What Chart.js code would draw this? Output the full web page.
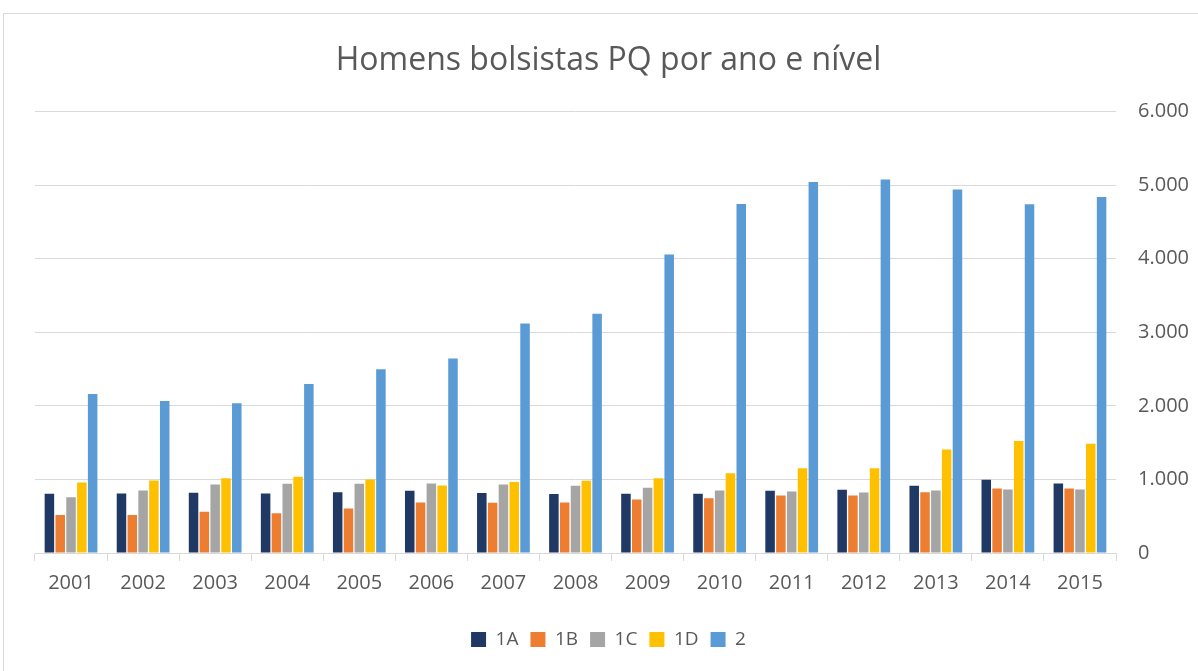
<!DOCTYPE html>
<html>
<head>
<meta charset="utf-8">
<script src="https://cdn.jsdelivr.net/npm/chart.js@4/dist/chart.umd.min.js"></script>
<style>
  html, body { margin: 0; padding: 0; background: #fff; }
  #wrap { position: relative; width: 1198px; height: 671px; overflow: hidden; }
  #frame { position: absolute; left: 3px; top: 13px; width: 1300px; height: 800px; border: 1px solid #d9d9d9; box-sizing: border-box; }
  #c { position: absolute; left: 0; top: 0; }
</style>
</head>
<body>
<div id="wrap">
  <div id="frame"></div>
  <canvas id="c" width="1198" height="671"></canvas>
</div>
<script>
const years = ['2001','2002','2003','2004','2005','2006','2007','2008','2009','2010','2011','2012','2013','2014','2015'];
const s1A = [805, 809, 818, 809, 827, 845, 814, 800, 805, 805, 845, 859, 914, 995, 945];
const s1B = [518, 518, 559, 541, 605, 686, 682, 686, 727, 745, 782, 782, 827, 877, 877];
const s1C = [759, 850, 932, 941, 941, 945, 932, 914, 886, 850, 836, 823, 850, 864, 864];
const s1D = [959, 986, 1014, 1036, 1000, 918, 964, 982, 1014, 1082, 1150, 1150, 1405, 1523, 1486];
const s2  = [2159, 2064, 2036, 2296, 2497, 2641, 3119, 3251, 4056, 4741, 5042, 5075, 4938, 4738, 4838];
const yTicks = [0, 1000, 2000, 3000, 4000, 5000, 6000];

const FONT = "'Open Sans', 'DejaVu Sans', sans-serif";
const mk = (label, data, color) => ({ label, data, backgroundColor: color, borderColor: color, borderWidth: 0, categoryPercentage: 0.75, barPercentage: 0.88 });

new Chart(document.getElementById('c'), {
  type: 'bar',
  data: {
    labels: years,
    datasets: [
      mk('1A', s1A, '#203864'),
      mk('1B', s1B, '#ed7d31'),
      mk('1C', s1C, '#a5a5a5'),
      mk('1D', s1D, '#ffc000'),
      mk('2', s2, '#5b9bd5')
    ]
  },
  options: {
    responsive: false,
    animation: false,
    layout: { padding: { left: 19, right: 0, top: 10, bottom: 12 } },
    plugins: {
      title: {
        display: true,
        text: 'Homens bolsistas PQ por ano e nível',
        color: '#595959',
        font: { family: FONT, size: 32, weight: 'normal' },
        padding: { top: 32, bottom: 31 }
      },
      legend: {
        position: 'bottom',
        labels: {
          color: '#595959',
          font: { family: FONT, size: 19 },
          boxWidth: 15,
          boxHeight: 15,
          padding: 12
        }
      },
      tooltip: { enabled: false }
    },
    scales: {
      x: {
        grid: { offset: true, drawOnChartArea: false, color: '#d9d9d9', tickLength: 8, tickColor: '#d9d9d9' },
        border: { color: '#d9d9d9', width: 1 },
        ticks: { color: '#595959', font: { family: FONT, size: 20 }, padding: 10, maxRotation: 0 },
        afterFit: (axis) => { axis.height += 13; }
      },
      y: {
        position: 'right',
        min: 0,
        max: 6000,
        afterBuildTicks: (axis) => { axis.ticks = yTicks.map(v => ({ value: v })); },
        afterFit: (axis) => { axis.width = 82; },
        grid: { color: '#d9d9d9', lineWidth: 1, drawTicks: false },
        border: { display: false },
        ticks: {
          color: '#595959',
          font: { family: FONT, size: 20 },
          padding: 22,
          callback: (v) => v === 0 ? '0' : String(v).replace(/\B(?=(\d{3})+(?!\d))/g, '.')
        }
      },
      yLeftSpacer: {
        type: 'linear',
        position: 'left',
        display: true,
        min: 0,
        max: 6000,
        grid: { display: false, drawTicks: false },
        border: { display: false },
        ticks: { display: false },
        afterFit: (axis) => { axis.width = 16; }
      }
    }
  }
});
</script>
</body>
</html>
